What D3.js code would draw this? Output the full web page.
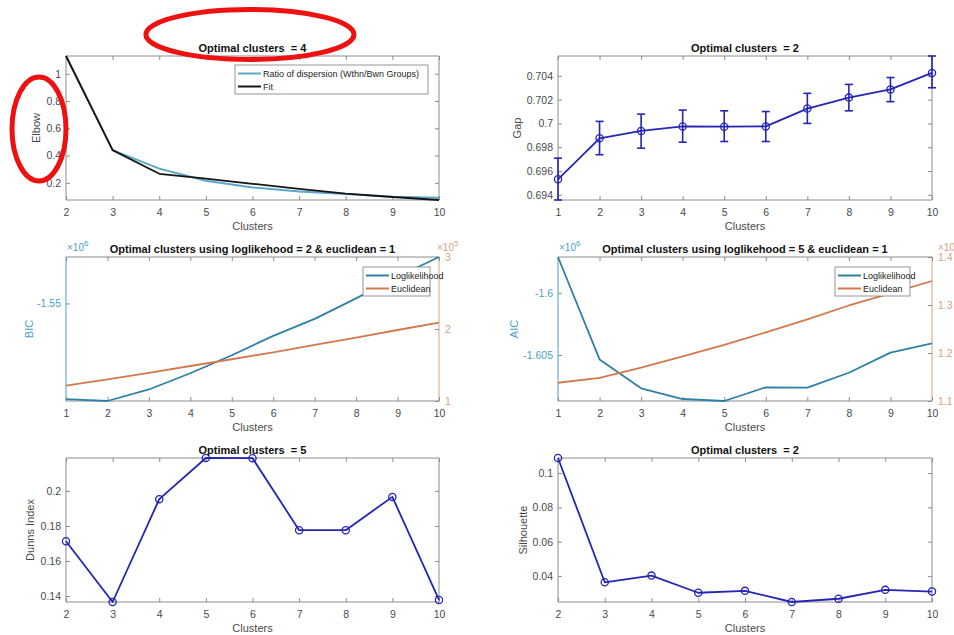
<!DOCTYPE html>
<html>
<head>
<meta charset="utf-8">
<script src="https://cdn.jsdelivr.net/npm/d3@7"></script>
<style>
  body { margin: 0; background: #fff; }
  svg { display: block; font-family: 'Liberation Sans', Arial, sans-serif; }
</style>
</head>
<body>
<div id="chart"></div>
<script>
// ---- data ----
const clustersFrom2 = [2, 3, 4, 5, 6, 7, 8, 9, 10];
const clustersFrom1 = [1, 2, 3, 4, 5, 6, 7, 8, 9, 10];

// elbow
const elbowRatio = [1.13, 0.44, 0.304, 0.215, 0.166, 0.136, 0.118, 0.097, 0.091];
const elbowFit = [1.13, 0.44, 0.266, 0.23, 0.193, 0.156, 0.121, 0.096, 0.074];
const elbowTicks = [0.2, 0.4, 0.6, 0.8, 1];

// gap statistic with error bars
const gapValues = [0.6953, 0.69875, 0.69937, 0.69975, 0.69973, 0.69975, 0.70125, 0.70217, 0.70286, 0.70425];
const gapUpper = [0.69708, 0.70017, 0.70078, 0.70112, 0.70106, 0.7010, 0.70253, 0.70328, 0.70386, 0.70567];
const gapLower = [0.69356, 0.69737, 0.69792, 0.69842, 0.69848, 0.69848, 0.7000, 0.70106, 0.70183, 0.70300];
const gapTicks = [0.694, 0.696, 0.698, 0.7, 0.702, 0.704];

// BIC (x10^6) and euclidean (x10^5)
const bicLoglik = [-1.5766, -1.5771, -1.5739, -1.5694, -1.5644, -1.5590, -1.5543, -1.5486, -1.5426, -1.5371];
const bicEuclid = [1.2125, 1.30, 1.39, 1.486, 1.58, 1.676, 1.778, 1.88, 1.986, 2.09];
const bicLeftTicks = [-1.55];
const bicRightTicks = [1, 2, 3];

// AIC (x10^6) and euclidean
const aicLoglik = [-1.59713, -1.60535, -1.60767, -1.60853, -1.60869, -1.60759, -1.60762, -1.60642, -1.60481, -1.60406];
const aicEuclid = [1.138, 1.148, 1.1696, 1.193, 1.2167, 1.243, 1.270, 1.299, 1.324, 1.35];
const aicLeftTicks = [-1.605, -1.6];
const aicRightTicks = [1.1, 1.2, 1.3, 1.4];

// Dunn index and silhouette
const dunnValues = [0.1713, 0.1366, 0.1953, 0.2188, 0.2187, 0.1776, 0.1776, 0.1966, 0.1378];
const dunnTicks = [0.14, 0.16, 0.18, 0.2];
const silhouetteValues = [0.1088, 0.0363, 0.0402, 0.0302, 0.0313, 0.0248, 0.0267, 0.0319, 0.0309];
const silhouetteTicks = [0.04, 0.06, 0.08, 0.1];

// ---- layout ----
const width = 954;
const height = 635;
const cols = [{ x0: 66, x1: 439 }, { x0: 558, x1: 932 }];
const rows = [{ y0: 56, y1: 200 }, { y0: 257, y1: 401 }, { y0: 458, y1: 602 }];

const gray = '#8c8c8c';
const textGray = '#4a4a4a';
const markBlue = '#2525b4';
const ratioBlue = '#5ba6c9';
const logBlue = '#2f80a6';
const euclOrange = '#d4784e';
const leftAxisBlue = '#4b9fc9';
const rightAxisOrange = '#d9a27f';

// matlab prints a plain hyphen for negatives
const fmtG = d => d3.format('~g')(d).replace('\u2212', '-');

const svg = d3.select('#chart').append('svg')
  .attr('width', width)
  .attr('height', height);

// sets up one subplot and returns its scales / group
function frame(col, row, xs) {
  const c = cols[col];
  const r = rows[row];
  const x = d3.scaleLinear().domain(d3.extent(xs)).range([c.x0, c.x1]);
  const g = svg.append('g');
  return { c, r, x, g };
}

function styleAxis(sel, color) {
  sel.select('.domain').remove();
  sel.selectAll('line').attr('stroke', gray);
  sel.selectAll('text')
    .attr('fill', color || textGray)
    .style('font-size', '10.5px')
    .style('font-family', "'Liberation Sans', Arial, sans-serif");
}

function xAxes(p, ticks) {
  p.g.append('g')
    .attr('transform', `translate(0,${p.r.y1})`)
    .call(d3.axisBottom(p.x).tickValues(ticks).tickSizeInner(-4).tickSizeOuter(0).tickPadding(9).tickFormat(d3.format('d')))
    .call(s => styleAxis(s));
  p.g.append('g')
    .attr('transform', `translate(0,${p.r.y0})`)
    .call(d3.axisTop(p.x).tickValues(ticks).tickSizeInner(-4).tickSizeOuter(0).tickFormat(''))
    .call(s => styleAxis(s));
  p.g.append('text')
    .attr('x', (p.c.x0 + p.c.x1) / 2)
    .attr('y', p.r.y1 + 30)
    .attr('text-anchor', 'middle')
    .attr('fill', textGray)
    .style('font-size', '11px')
    .text('Clusters');
}

function yLeft(p, y, ticks, fmt, color, mirror) {
  p.g.append('g')
    .attr('transform', `translate(${p.c.x0},0)`)
    .call(d3.axisLeft(y).tickValues(ticks).tickSizeInner(-4).tickSizeOuter(0).tickPadding(5).tickFormat(fmt))
    .call(s => styleAxis(s, color));
  if (mirror) {
    p.g.append('g')
      .attr('transform', `translate(${p.c.x1},0)`)
      .call(d3.axisRight(y).tickValues(ticks).tickSizeInner(-4).tickSizeOuter(0).tickFormat(''))
      .call(s => styleAxis(s));
  }
}

function yRight(p, y, ticks, fmt, color) {
  p.g.append('g')
    .attr('transform', `translate(${p.c.x1},0)`)
    .call(d3.axisRight(y).tickValues(ticks).tickSizeInner(-4).tickSizeOuter(0).tickPadding(6).tickFormat(fmt))
    .call(s => styleAxis(s, color));
}

function box(p, leftColor, rightColor) {
  const { c, r } = p;
  p.g.append('path').attr('d', `M${c.x0},${r.y1}H${c.x1}M${c.x0},${r.y0}H${c.x1}`)
    .attr('stroke', gray).attr('fill', 'none');
  p.g.append('path').attr('d', `M${c.x0},${r.y0}V${r.y1}`)
    .attr('stroke', leftColor || gray).attr('fill', 'none');
  p.g.append('path').attr('d', `M${c.x1},${r.y0}V${r.y1}`)
    .attr('stroke', rightColor || gray).attr('fill', 'none');
}

function title(p, txt) {
  return p.g.append('text')
    .attr('x', (p.c.x0 + p.c.x1) / 2)
    .attr('y', p.r.y0 - 4.5)
    .attr('text-anchor', 'middle')
    .attr('fill', '#111')
    .style('font-size', '11px')
    .style('font-weight', 'bold')
    .style('white-space', 'pre')
    .text(txt);
}

function yLabel(p, txt, offset, color) {
  return p.g.append('text')
    .attr('transform', `translate(${p.c.x0 - offset},${(p.r.y0 + p.r.y1) / 2}) rotate(-90)`)
    .attr('text-anchor', 'middle')
    .attr('dy', '0.35em')
    .attr('fill', color || textGray)
    .style('font-size', '11px')
    .text(txt);
}

// "x10^n" multiplier above an axis
function exponent(p, xPos, power, color) {
  const t = p.g.append('text')
    .attr('x', xPos)
    .attr('y', p.r.y0 - 6)
    .attr('fill', color)
    .style('font-size', '10px');
  t.append('tspan').text('\u00d710');
  t.append('tspan').attr('dy', -5).style('font-size', '8px').text(power);
}

function legend(p, x0, y0, w, items) {
  const lg = p.g.append('g').attr('transform', `translate(${x0},${y0})`);
  lg.append('rect').attr('width', w).attr('height', 13 * items.length + 3)
    .attr('fill', '#fff').attr('stroke', '#7a7a7a').attr('stroke-width', 0.8);
  items.forEach((it, i) => {
    const yy = 8.5 + i * 13;
    lg.append('line').attr('x1', 3).attr('x2', 26).attr('y1', yy).attr('y2', yy)
      .attr('stroke', it.color).attr('stroke-width', 2);
    lg.append('text').attr('x', 28).attr('y', yy).attr('dy', '0.35em')
      .attr('fill', '#222').style('font-size', '9px').text(it.label);
  });
}

function series(p, xs, ys, y, color, w) {
  const line = d3.line().x((d, i) => p.x(xs[i])).y(d => y(d));
  p.g.append('path').datum(ys)
    .attr('d', line)
    .attr('fill', 'none')
    .attr('stroke', color)
    .attr('stroke-width', w || 1.8)
    .attr('stroke-linejoin', 'round');
}

function markers(p, xs, ys, y) {
  p.g.selectAll(null).data(ys).enter().append('circle')
    .attr('cx', (d, i) => p.x(xs[i]))
    .attr('cy', d => y(d))
    .attr('r', 3.6)
    .attr('fill', 'none')
    .attr('stroke', markBlue)
    .attr('stroke-width', 1.3);
}

// ****************** Elbow ******************
const p1 = frame(0, 0, clustersFrom2);
const y1 = d3.scaleLinear().domain(d3.extent(elbowRatio.concat(elbowFit))).range([p1.r.y1, p1.r.y0]);
box(p1);
xAxes(p1, clustersFrom2);
yLeft(p1, y1, elbowTicks, fmtG, null, true);
series(p1, clustersFrom2, elbowRatio, y1, ratioBlue, 2);
series(p1, clustersFrom2, elbowFit, y1, '#151515', 1.8);
legend(p1, 235, 65, 193, [
  { label: 'Ratio of dispersion (Wthn/Bwn Groups)', color: ratioBlue },
  { label: 'Fit', color: '#151515' },
]);
const t1 = title(p1, 'Optimal clusters  = 4');
yLabel(p1, 'Elbow', 30);

// ****************** Gap ******************
const p2 = frame(1, 0, clustersFrom1);
const y2 = d3.scaleLinear().domain([d3.min(gapLower), d3.max(gapUpper)]).range([p2.r.y1, p2.r.y0]);
box(p2);
xAxes(p2, clustersFrom1);
yLeft(p2, y2, gapTicks, fmtG, null, true);
const bars = p2.g.selectAll(null).data(gapValues).enter().append('g');
bars.append('line')
  .attr('x1', (d, i) => p2.x(clustersFrom1[i])).attr('x2', (d, i) => p2.x(clustersFrom1[i]))
  .attr('y1', (d, i) => y2(gapLower[i])).attr('y2', (d, i) => y2(gapUpper[i]));
bars.append('line')
  .attr('x1', (d, i) => p2.x(clustersFrom1[i]) - 4).attr('x2', (d, i) => p2.x(clustersFrom1[i]) + 4)
  .attr('y1', (d, i) => y2(gapLower[i])).attr('y2', (d, i) => y2(gapLower[i]));
bars.append('line')
  .attr('x1', (d, i) => p2.x(clustersFrom1[i]) - 4).attr('x2', (d, i) => p2.x(clustersFrom1[i]) + 4)
  .attr('y1', (d, i) => y2(gapUpper[i])).attr('y2', (d, i) => y2(gapUpper[i]));
bars.selectAll('line').attr('stroke', markBlue).attr('stroke-width', 1.6);
series(p2, clustersFrom1, gapValues, y2, markBlue, 1.8);
markers(p2, clustersFrom1, gapValues, y2);
title(p2, 'Optimal clusters  = 2');
yLabel(p2, 'Gap', 41);

// ****************** BIC ******************
const p3 = frame(0, 1, clustersFrom1);
const y3l = d3.scaleLinear().domain(d3.extent(bicLoglik)).range([p3.r.y1, p3.r.y0]);
const y3r = d3.scaleLinear().domain(d3.extent(bicRightTicks)).range([p3.r.y1, p3.r.y0]);
box(p3, leftAxisBlue, rightAxisOrange);
xAxes(p3, clustersFrom1);
yLeft(p3, y3l, bicLeftTicks, fmtG, leftAxisBlue, false);
yRight(p3, y3r, bicRightTicks, fmtG, rightAxisOrange);
series(p3, clustersFrom1, bicLoglik, y3l, logBlue, 1.8);
series(p3, clustersFrom1, bicEuclid, y3r, euclOrange, 1.8);
legend(p3, 363, 267, 67, [
  { label: 'Loglikelihood', color: logBlue },
  { label: 'Euclidean', color: euclOrange },
]);
title(p3, 'Optimal clusters using loglikehood = 2 & euclidean = 1');
yLabel(p3, 'BIC', 37, leftAxisBlue);
exponent(p3, p3.c.x0 + 1, '6', leftAxisBlue);
exponent(p3, p3.c.x1 - 2, '5', rightAxisOrange);

// ****************** AIC ******************
const p4 = frame(1, 1, clustersFrom1);
const y4l = d3.scaleLinear().domain(d3.extent(aicLoglik)).range([p4.r.y1, p4.r.y0]);
const y4r = d3.scaleLinear().domain(d3.extent(aicRightTicks)).range([p4.r.y1, p4.r.y0]);
box(p4, leftAxisBlue, rightAxisOrange);
xAxes(p4, clustersFrom1);
yLeft(p4, y4l, aicLeftTicks, fmtG, leftAxisBlue, false);
yRight(p4, y4r, aicRightTicks, d3.format('.1f'), rightAxisOrange);
series(p4, clustersFrom1, aicLoglik, y4l, logBlue, 1.8);
series(p4, clustersFrom1, aicEuclid, y4r, euclOrange, 1.8);
legend(p4, 835, 267, 75, [
  { label: 'Loglikelihood', color: logBlue },
  { label: 'Euclidean', color: euclOrange },
]);
title(p4, 'Optimal clusters using loglikehood = 5 & euclidean = 1');
yLabel(p4, 'AIC', 44, leftAxisBlue);
exponent(p4, p4.c.x0 + 1, '6', leftAxisBlue);
exponent(p4, p4.c.x1 + 6, '5', rightAxisOrange);

// ****************** Dunn ******************
const p5 = frame(0, 2, clustersFrom2);
const y5 = d3.scaleLinear().domain(d3.extent(dunnValues)).range([p5.r.y1, p5.r.y0]);
box(p5);
xAxes(p5, clustersFrom2);
yLeft(p5, y5, dunnTicks, fmtG, null, true);
series(p5, clustersFrom2, dunnValues, y5, markBlue, 1.8);
markers(p5, clustersFrom2, dunnValues, y5);
title(p5, 'Optimal clusters  = 5');
yLabel(p5, 'Dunns Index', 36);

// ****************** Silhouette ******************
const p6 = frame(1, 2, clustersFrom2);
const y6 = d3.scaleLinear().domain(d3.extent(silhouetteValues)).range([p6.r.y1, p6.r.y0]);
box(p6);
xAxes(p6, clustersFrom2);
yLeft(p6, y6, silhouetteTicks, fmtG, null, true);
series(p6, clustersFrom2, silhouetteValues, y6, markBlue, 1.8);
markers(p6, clustersFrom2, silhouetteValues, y6);
title(p6, 'Optimal clusters  = 2');
yLabel(p6, 'Silhouette', 35);

// ****************** red annotation ellipses ******************
const tb = t1.node().getBBox();
svg.append('ellipse')
  .attr('cx', tb.x + tb.width / 2 - 3).attr('cy', tb.y + tb.height / 2 - 13)
  .attr('rx', 104).attr('ry', 25)
  .attr('fill', 'none').attr('stroke', '#ee1111').attr('stroke-width', 5);
svg.append('ellipse')
  .attr('cx', p1.c.x0 - 27).attr('cy', (p1.r.y0 + p1.r.y1) / 2 + 1)
  .attr('rx', 27).attr('ry', 52)
  .attr('fill', 'none').attr('stroke', '#ee1111').attr('stroke-width', 5);
</script>
</body>
</html>
